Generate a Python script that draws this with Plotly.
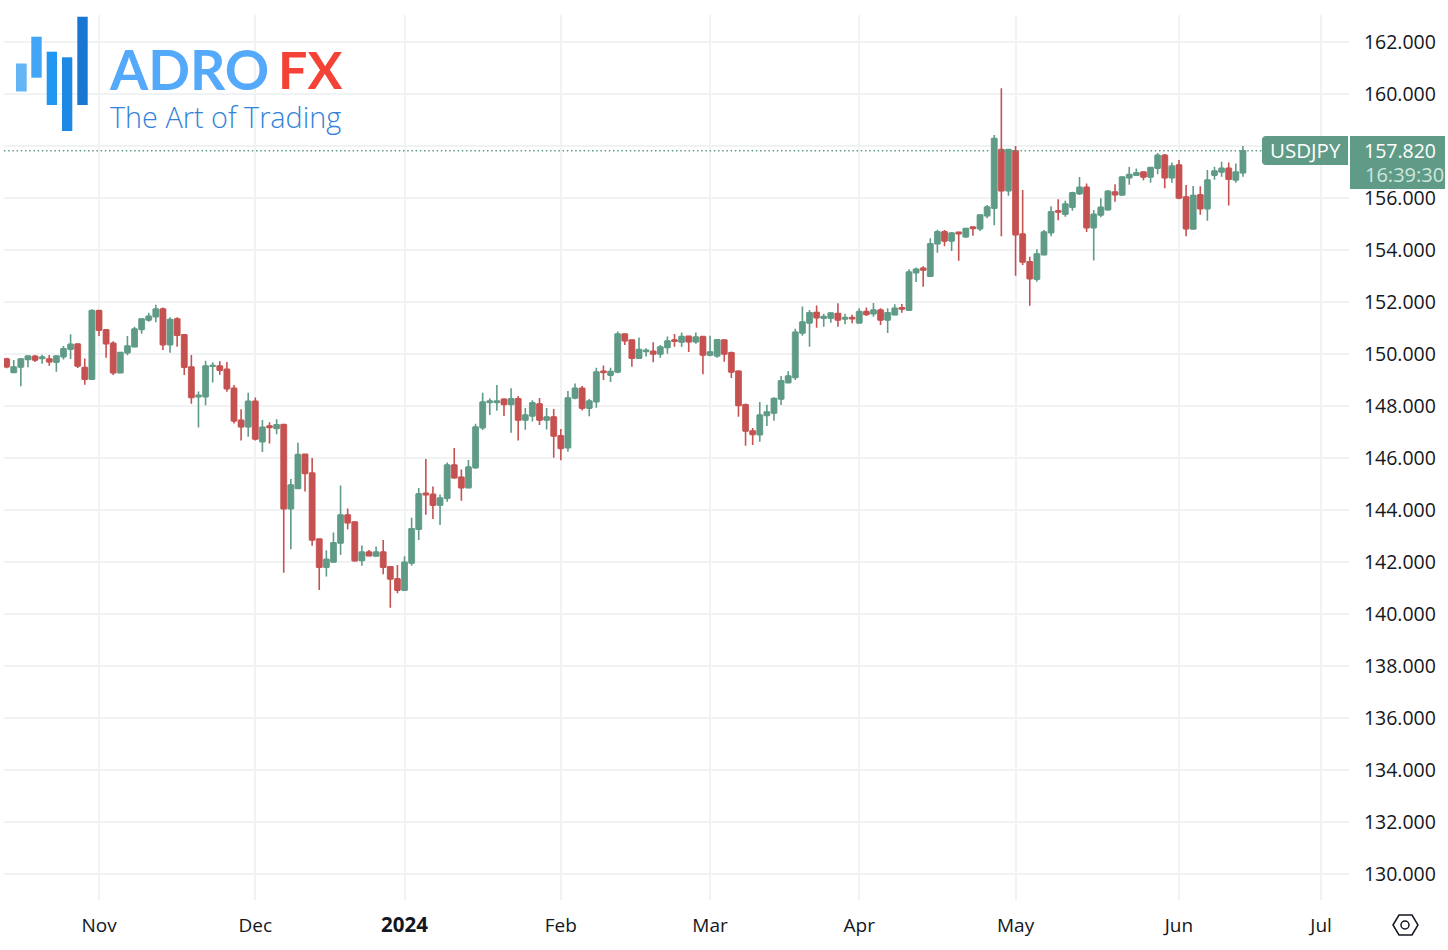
import pandas as pd
import plotly.graph_objects as go

opens = [149.81,149.29,149.50,149.79,149.91,149.83,149.81,149.69,149.90,150.19,
150.38,149.48,149.03,151.67,150.93,150.41,149.28,150.05,150.28,150.95,
151.31,151.44,151.73,150.36,151.35,150.74,149.50,148.36,148.36,149.53,
149.54,149.41,148.68,147.45,147.20,148.18,146.63,147.23,147.14,147.29,
144.05,144.83,146.14,145.42,142.88,141.80,142.00,142.73,143.81,143.54,
142.06,142.38,142.23,142.38,141.82,141.35,140.92,141.96,143.26,144.64,
144.60,144.19,144.45,145.73,145.26,144.86,145.63,147.17,148.14,148.14,
148.26,148.06,148.28,147.46,147.62,148.08,147.46,147.58,146.85,146.40,
148.31,148.68,147.92,148.17,149.34,149.19,149.31,150.77,150.54,149.84,
150.10,150.10,150.00,150.25,150.54,150.46,150.68,150.47,150.67,149.96,
149.93,150.54,150.05,149.34,148.05,147.04,146.90,147.64,147.73,148.27,
148.90,149.10,150.81,151.20,151.60,151.38,151.38,151.56,151.35,151.40,
151.20,151.63,151.55,151.69,151.31,151.51,151.78,151.69,153.13,153.30,
152.99,154.24,154.70,154.35,154.68,154.51,154.88,154.82,155.32,155.61,
157.86,156.28,157.82,154.61,153.55,152.88,153.82,154.67,155.51,155.38,
155.65,156.17,156.41,154.86,155.35,155.55,156.23,156.12,156.78,156.88,
157.00,156.81,157.15,157.64,156.78,157.27,156.04,154.81,156.12,155.59,
156.88,157.00,157.14,156.70,156.97]
highs = [149.86,149.77,149.83,149.95,149.96,149.97,149.96,149.95,150.31,150.76,
150.41,149.83,151.72,151.69,150.96,150.49,150.06,150.69,151.05,151.39,
151.59,151.90,151.79,151.41,151.41,150.77,149.96,148.56,149.74,149.68,
149.72,149.69,148.81,147.88,148.51,148.33,147.46,147.38,147.49,147.29,
145.19,146.59,146.14,146.00,142.91,142.45,143.14,144.94,144.06,143.56,
142.64,142.46,142.60,142.85,141.82,141.89,142.22,143.70,144.85,145.96,
144.90,144.60,145.83,146.39,145.56,145.92,147.32,148.51,148.30,148.81,
148.30,148.68,148.39,147.92,148.22,148.31,147.92,147.89,147.12,148.58,
148.87,148.77,148.27,149.47,149.56,149.47,150.87,150.77,150.54,150.64,
150.22,150.45,150.35,150.67,150.77,150.83,150.70,150.83,150.67,150.70,
150.58,150.54,150.10,149.38,148.10,147.15,148.15,148.05,148.34,149.15,
149.34,150.97,151.83,151.69,151.87,151.55,151.60,151.95,151.55,151.51,
151.76,151.79,151.96,151.76,151.76,151.91,151.92,153.26,153.33,153.38,
154.45,154.78,154.77,154.69,154.68,154.83,154.88,155.37,155.73,158.42,
160.22,157.88,158.00,156.31,153.74,154.03,154.77,155.68,155.95,155.90,
156.24,156.81,156.56,155.54,155.99,156.31,156.53,156.83,157.19,157.14,
157.00,157.20,157.73,157.69,157.37,157.46,156.50,156.46,156.45,157.08,
157.20,157.40,157.37,157.33,158.00]
lows = [149.45,149.29,148.76,149.49,149.69,149.63,149.55,149.32,149.79,149.81,
149.46,148.82,149.03,150.69,149.86,149.19,149.28,149.95,150.28,150.78,
151.24,151.22,150.15,150.05,150.28,149.19,148.09,147.17,148.03,148.90,
149.20,148.55,147.33,146.67,146.82,146.67,146.23,146.56,146.91,141.59,
142.49,144.82,144.71,142.63,140.92,141.44,142.00,142.27,143.26,142.01,
141.86,142.24,142.20,141.53,140.24,140.80,140.92,141.86,142.85,143.82,
143.65,143.42,144.32,145.20,144.36,144.86,145.59,147.08,147.65,147.82,
147.62,146.97,146.67,147.09,147.40,147.27,147.10,146.01,145.91,146.24,
148.26,147.83,147.61,147.93,149.00,148.92,149.26,150.35,149.51,149.82,
149.90,149.68,149.86,150.01,150.28,150.27,150.08,150.40,149.22,149.91,
149.86,149.70,149.08,147.59,146.47,146.50,146.63,147.23,147.43,148.04,
148.90,149.00,150.70,150.28,151.01,151.05,151.20,151.05,151.15,151.18,
151.20,151.46,151.43,151.12,150.81,151.51,151.59,151.69,152.77,152.59,
152.99,153.90,154.15,153.96,153.59,154.46,154.55,154.73,155.22,154.95,
154.53,156.09,153.01,153.42,151.86,152.78,153.82,154.53,155.15,155.28,
155.51,156.12,154.69,153.60,155.26,155.51,155.86,156.09,156.51,156.86,
156.68,156.59,156.91,156.38,156.59,155.95,154.53,154.81,155.36,155.13,
156.70,156.82,155.71,156.59,156.82]
closes = [149.51,149.50,149.81,149.92,149.77,149.88,149.70,149.92,150.20,150.37,
149.54,149.03,151.67,150.92,150.40,149.28,150.06,150.31,150.96,151.35,
151.45,151.73,150.36,151.33,150.72,149.49,148.33,148.41,149.54,149.56,
149.38,148.67,147.43,147.20,148.18,146.73,147.18,147.18,147.28,144.05,
144.96,146.13,145.41,142.85,141.80,142.10,142.74,143.81,143.51,142.05,
142.38,142.24,142.38,141.80,141.35,140.92,141.99,143.28,144.62,144.59,
144.19,144.46,145.73,145.24,144.86,145.65,147.19,148.15,148.19,148.19,
148.06,148.28,147.46,147.65,148.12,147.46,147.58,146.85,146.37,148.31,
148.68,147.92,148.19,149.31,149.29,149.33,150.77,150.51,149.84,150.17,
150.14,150.00,150.27,150.50,150.49,150.67,150.47,150.65,149.96,150.08,
150.55,150.00,149.31,148.02,147.04,146.91,147.65,147.77,148.29,148.97,
149.15,150.84,151.23,151.59,151.40,151.44,151.58,151.31,151.40,151.36,
151.63,151.52,151.69,151.31,151.59,151.76,151.73,153.15,153.26,153.23,
154.24,154.70,154.35,154.65,154.63,154.83,154.83,155.35,155.65,158.29,
156.28,157.86,154.59,153.54,152.90,153.85,154.69,155.47,155.46,155.77,
156.20,156.41,154.86,155.37,155.64,156.26,156.13,156.81,156.90,156.97,
156.81,157.17,157.64,156.78,157.23,156.00,154.82,156.10,155.59,156.69,
157.04,157.14,156.72,157.00,157.82]

month_ticks = ["2023-11-01","2023-12-01","2024-01-02","2024-02-01","2024-03-01","2024-04-01","2024-05-01","2024-06-03","2024-07-01"]
month_labels = ["Nov","Dec",'<span style="font-size:20.5px"><b>2024</b></span>',"Feb","Mar","Apr","May","Jun","Jul"]
last_price = 157.82
price_ticks = list(range(130, 164, 2))
price_labels = ["" if v == 158 else f"{v}.000" for v in price_ticks]  # 158 sits behind the price tag

GREEN = "#5f9b87"
RED = "#c65151"
GRID = "#f1f2f4"
INK = "#131722"
FONT = "Open Sans"

W, H = 1448, 950
L, R, T, B = 4, 1349, 15, 900

def px(x): return (x - L) / (R - L)
def py(y): return 1 - (y - T) / (B - T)

sessions = [d.strftime("%Y-%m-%d") for d in pd.bdate_range("2023-10-13", "2024-07-05")
            if d.strftime("%m-%d") != "01-01"]
dates = sessions[:len(opens)]
body_low = [min(o, c) for o, c in zip(opens, closes)]
body_size = [abs(c - o) for o, c in zip(opens, closes)]
body_color = [GREEN if c >= o else RED for o, c in zip(opens, closes)]

fig = go.Figure()
# Wider candle bodies than candlestick traces allow: bars sit under the candlestick wicks.
fig.add_trace(go.Bar(x=dates, y=body_size, base=body_low, width=0.84,
                     marker=dict(color=body_color, line=dict(color=body_color, width=0.8)),
                     showlegend=False, hoverinfo="skip"))
fig.add_trace(go.Candlestick(
    x=dates, open=opens, high=highs, low=lows, close=closes,
    increasing=dict(line=dict(color=GREEN, width=1.6), fillcolor=GREEN),
    decreasing=dict(line=dict(color=RED, width=1.6), fillcolor=RED),
    whiskerwidth=0, showlegend=False, hoverinfo="skip",
))

def rect(x0, y0, x1, y1, color):
    return dict(type="rect", xref="paper", yref="paper", x0=px(x0), x1=px(x1), y0=py(y0), y1=py(y1),
                fillcolor=color, line=dict(width=0), layer="above")

def poly(points, **kw):
    d = "M " + " L ".join(f"{px(a):.5f},{py(b):.5f}" for a, b in points) + " Z"
    return dict(type="path", xref="paper", yref="paper", path=d, layer="above", **kw)

shapes = [
    dict(type="line", xref="paper", yref="y", x0=0, x1=px(1262), y0=last_price, y1=last_price,
         line=dict(color=GREEN, width=1.4, dash="1.5px,2.7px"), layer="above"),
    rect(1350, 136, 1445, 189, GREEN),
    poly([(1262, 139), (1263, 137), (1265, 136), (1348, 136), (1348, 165), (1265, 165), (1263, 164), (1262, 162)],
         fillcolor=GREEN, line=dict(width=0)),
    rect(16, 63.5, 26.7, 91.5, "#64b5f6"),
    rect(31.3, 36.7, 41.7, 77.7, "#42a5f5"),
    rect(46.7, 51.7, 57, 105, "#2196f3"),
    rect(62, 57.3, 72.3, 131, "#1e88e5"),
    rect(77.3, 16.7, 87.7, 105, "#1976d2"),
    poly([(1393, 925), (1399, 915), (1412, 915), (1418, 925), (1412, 935), (1399, 935)],
         line=dict(color=INK, width=1.5), fillcolor="rgba(0,0,0,0)"),
    dict(type="circle", xref="paper", yref="paper", x0=px(1401), x1=px(1409), y0=py(921), y1=py(929),
         line=dict(color=INK, width=1.5), layer="above"),
]

def note(x, y, text, size, color, anchor="center", family=FONT, weight=None):
    f = dict(size=size, color=color, family=family)
    if weight: f["weight"] = weight
    return dict(xref="paper", yref="paper", x=px(x), y=py(y), text=text, showarrow=False, font=f,
                xanchor=anchor, yanchor="middle", xshift=0, yshift=0)

annotations = [
    note(1305.5, 149.5, "USDJPY", 20.5, "#ffffff"),
    note(1400, 151, "157.820", 19.5, "#ffffff"),
    note(1404, 174.5, "16:39:30", 20, "#cfe6de"),
    note(107, 69.5, "ADRO", 55, "#55a9fb", "left", "Lato", 700),
    note(275.5, 69.5, "FX", 52, "#f44336", "left", "Lato", 700),
    note(108, 116, "The Art of Trading", 28.8, "#3282da", "left", "Open Sans", 300),
]

fig.update_layout(
    width=W, height=H, paper_bgcolor="#ffffff", plot_bgcolor="#ffffff",
    margin=dict(l=L, r=W - R, t=T, b=H - B, autoexpand=False),
    showlegend=False, shapes=shapes, annotations=annotations,
    font=dict(family=FONT, size=19, color=INK),
    xaxis=dict(type="category", categoryorder="array", categoryarray=sessions,
               range=[-0.37, 188.93], tickmode="array", tickvals=month_ticks, ticktext=month_labels,
               showgrid=True, gridcolor=GRID, gridwidth=1.5, zeroline=False, showline=False,
               ticks="", rangeslider=dict(visible=False), tickfont=dict(size=19, color=INK), ticklabelstandoff=12,
               fixedrange=True),
    yaxis=dict(side="right", range=[129.0, 163.04], tickmode="array", tickvals=price_ticks, ticktext=price_labels,
               showgrid=True, gridcolor=GRID, gridwidth=1.5, zeroline=False, showline=False,
               ticks="outside", ticklen=10, tickcolor="rgba(0,0,0,0)", tickfont=dict(size=19.5, color=INK),
               fixedrange=True),
)

fig.write_html("out.html", config=dict(displayModeBar=False),
               post_script="document.body.style.margin='0';")
